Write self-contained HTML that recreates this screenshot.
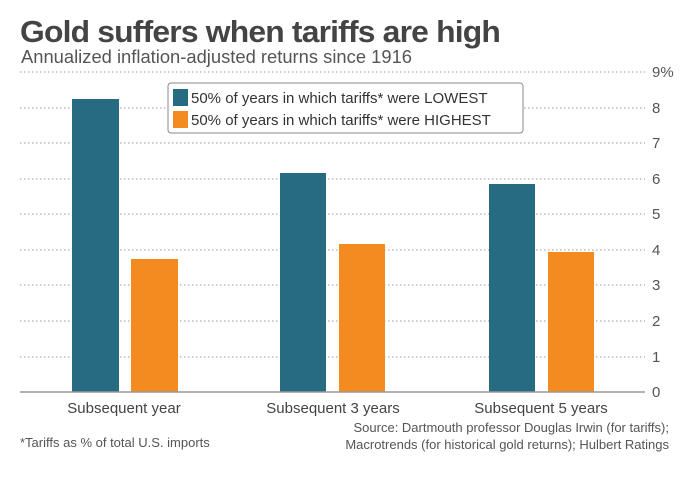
<!DOCTYPE html>
<html><head><style>
body{margin:0;background:#fff;}
svg{display:block;font-family:"Liberation Sans",sans-serif;}
</style></head><body>
<svg width="699" height="477" viewBox="0 0 699 477">
<text x="20" y="42" font-size="31" font-weight="bold" fill="#444" letter-spacing="-0.8" textLength="480" lengthAdjust="spacingAndGlyphs">Gold suffers when tariffs are high</text>
<text x="21" y="63" font-size="18" fill="#555" textLength="391" lengthAdjust="spacingAndGlyphs">Annualized inflation-adjusted returns since 1916</text>
<g stroke="#999" stroke-width="1" stroke-dasharray="1.5,2.5">
<line x1="20" x2="645" y1="72" y2="72"/>
<line x1="20" x2="645" y1="108" y2="108"/>
<line x1="20" x2="645" y1="143" y2="143"/>
<line x1="20" x2="645" y1="179" y2="179"/>
<line x1="20" x2="645" y1="214" y2="214"/>
<line x1="20" x2="645" y1="250" y2="250"/>
<line x1="20" x2="645" y1="285" y2="285"/>
<line x1="20" x2="645" y1="321" y2="321"/>
<line x1="20" x2="645" y1="357" y2="357"/>
</g>
<g font-size="15" fill="#555">
<text x="652" y="77">9%</text>
<text x="652" y="113">8</text>
<text x="652" y="148">7</text>
<text x="652" y="184">6</text>
<text x="652" y="219">5</text>
<text x="652" y="255">4</text>
<text x="652" y="290">3</text>
<text x="652" y="326">2</text>
<text x="652" y="362">1</text>
<text x="652" y="397">0</text>
</g>
<g fill="#276b82">
<rect x="72" y="99" width="47" height="293"/>
<rect x="280" y="173" width="46" height="219"/>
<rect x="489" y="184" width="46" height="208"/>
</g>
<g fill="#f38b21">
<rect x="131" y="259" width="47" height="133"/>
<rect x="339" y="244" width="46" height="148"/>
<rect x="548" y="252" width="46" height="140"/>
</g>
<line x1="20" x2="645" y1="392" y2="392" stroke="#999" stroke-width="1.5"/>
<g font-size="15" fill="#444" text-anchor="middle">
<text x="124" y="413">Subsequent year</text>
<text x="333" y="413">Subsequent 3 years</text>
<text x="541" y="413">Subsequent 5 years</text>
</g>
<g font-size="13" fill="#555">
<text x="669" y="432" text-anchor="end">Source: Dartmouth professor Douglas Irwin (for tariffs);</text>
<text x="669" y="449" text-anchor="end">Macrotrends (for historical gold returns); Hulbert Ratings</text>
<text x="20" y="447">*Tariffs as % of total U.S. imports</text>
</g>
<rect x="168" y="83" width="355" height="50" rx="3" fill="#fff" stroke="#888" stroke-width="1"/>
<rect x="173" y="89" width="15" height="17" fill="#276b82"/>
<rect x="173" y="111" width="15" height="17" fill="#f38b21"/>
<g font-size="15" fill="#333">
<text x="191" y="103">50% of years in which tariffs* were LOWEST</text>
<text x="191" y="125">50% of years in which tariffs* were HIGHEST</text>
</g>
</svg>
</body></html>
